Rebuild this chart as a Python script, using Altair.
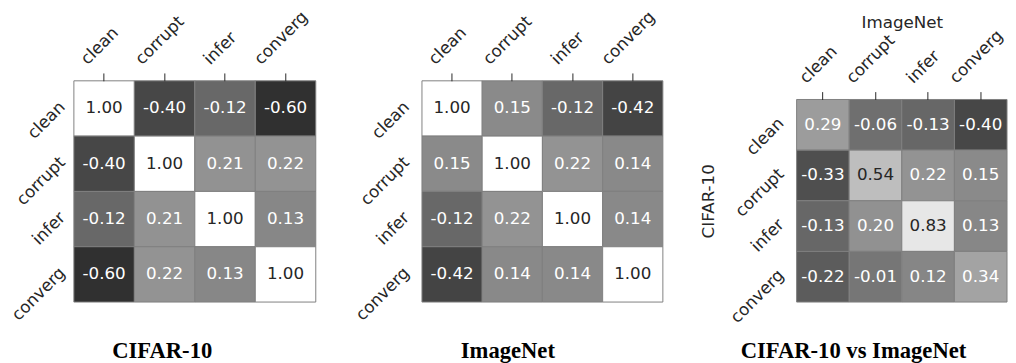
import altair as alt
import pandas as pd

cats = ["clean", "corrupt", "infer", "converg"]
cifar = [
    [1.00, -0.40, -0.12, -0.60],
    [-0.40, 1.00, 0.21, 0.22],
    [-0.12, 0.21, 1.00, 0.13],
    [-0.60, 0.22, 0.13, 1.00],
]
imagenet = [
    [1.00, 0.15, -0.12, -0.42],
    [0.15, 1.00, 0.22, 0.14],
    [-0.12, 0.22, 1.00, 0.14],
    [-0.42, 0.14, 0.14, 1.00],
]
cross = [
    [0.29, -0.06, -0.13, -0.40],
    [-0.33, 0.54, 0.22, 0.15],
    [-0.13, 0.20, 0.83, 0.13],
    [-0.22, -0.01, 0.12, 0.34],
]
titles = ["CIFAR-10", "ImageNet", "CIFAR-10 vs ImageNet"]

FONT = "DejaVu Sans"
TXT = "#262626"


def frame(m):
    rows = []
    for i, r in enumerate(cats):
        for j, c in enumerate(cats):
            v = m[i][j]
            rows.append({"row": r, "col": c, "v": v, "label": f"{v:.2f}"})
    return pd.DataFrame(rows)


xoff = {
    "condition": [
        {"test": "datum.value == 'clean'", "value": -17},
        {"test": "datum.value == 'corrupt'", "value": -23},
        {"test": "datum.value == 'infer'", "value": -15},
    ],
    "value": -25,
}


def panel(m, title, w, h, top=0, toff=17, ypad=16, xtitle=None, ytitle=None):
    df = frame(m)
    xaxis = dict(orient="top", labelAngle=315, labelAlign="left",
                 labelBaseline="alphabetic", labelOffset=xoff, labelPadding=8,
                 tickSize=8, tickColor=TXT, tickWidth=1, domain=False,
                 labelFont=FONT, labelFontSize=17, labelColor=TXT)
    if top:
        xaxis.update(offset=-top)
    yaxis = dict(labelAngle=315, labelAlign="right", labelBaseline="middle",
                 ticks=False, tickSize=0, domain=False, labelPadding=ypad, labelOffset=-4,
                 labelFont=FONT, labelFontSize=17, labelColor=TXT)
    if xtitle:
        xaxis.update(title=xtitle, titleFont=FONT, titleFontSize=17,
                     titleFontWeight="normal", titleColor=TXT, titlePadding=-5)
    else:
        xaxis.update(title=None)
    if ytitle:
        yaxis.update(title=ytitle, titleFont=FONT, titleFontSize=17,
                     titleFontWeight="normal", titleColor=TXT, titlePadding=10)
    else:
        yaxis.update(title=None)
    base = alt.Chart(df).encode(
        x=alt.X("col:N", sort=cats, axis=alt.Axis(**xaxis),
                scale=alt.Scale(paddingInner=0, paddingOuter=0)),
        y=alt.Y("row:N", sort=cats, axis=alt.Axis(**yaxis),
                scale=alt.Scale(paddingInner=0, paddingOuter=0, range=[top, h])),
    )
    rect = base.mark_rect(stroke="#808080", strokeWidth=1).encode(
        color=alt.Color("v:Q", scale=alt.Scale(domain=[-1, 1], range=["#000000", "#ffffff"]),
                        legend=None)
    )
    text = base.mark_text(font=FONT, fontSize=17).encode(
        text="label:N",
        color=alt.condition("datum.v > 0.5", alt.value(TXT), alt.value("#ffffff")),
    )
    return (rect + text).properties(
        width=w, height=h,
        title=alt.TitleParams(title, orient="bottom", anchor="middle", frame="bounds",
                              font="Liberation Serif", fontSize=23, fontWeight="bold",
                              color="#000000", offset=toff),
    )


p1 = panel(cifar, titles[0], 246, 225, ypad=12)
p2 = panel(imagenet, titles[1], 245, 225)
p3 = panel(cross, titles[2], 214, 225, top=19, toff=15, xtitle="ImageNet", ytitle="CIFAR-10")

chart = alt.concat(p1, p2, p3, columns=3, spacing=35).configure_view(
    stroke="transparent"
).properties(padding={"left": -1, "top": -4, "right": 0, "bottom": 0})

chart.save("out.html", embed_options={"renderer": "svg", "actions": False})
